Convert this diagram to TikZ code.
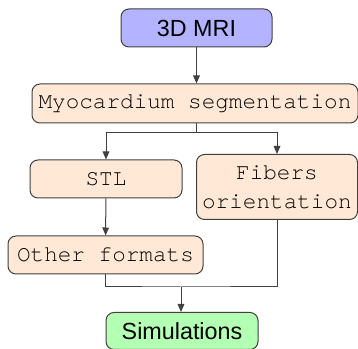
\documentclass[tikz,border=0pt]{standalone}
\usepackage{fontspec}
\setmainfont{Liberation Sans}
\setsansfont{Liberation Sans}
\setmonofont{TeX Gyre Cursor}
\usetikzlibrary{arrows.meta,positioning}

\definecolor{boxline}{HTML}{404040}
\definecolor{mrifill}{HTML}{B3B3FF}
\definecolor{stepfill}{HTML}{FFE9D6}
\definecolor{simfill}{HTML}{B3FFB3}

\begin{document}
\begin{tikzpicture}[x=0.75pt,y=-0.75pt]
\tikzset{
  flowbox/.style={rectangle,rounded corners=6pt,draw=boxline,line width=0.75pt,inner sep=2pt,font=\fontsize{17}{22}\selectfont},
  sansbox/.style={flowbox,font=\fontsize{17.5}{22}\selectfont\sffamily},
  monobox/.style={flowbox,fill=stepfill,font=\fontsize{17}{22}\selectfont\ttfamily,align=center},
  flowline/.style={draw=boxline,line width=0.75pt},
  flowarrow/.style={flowline,-{Triangle[length=6pt,width=5pt]}}
}
\useasboundingbox (0,0) rectangle (358,349);
\node[sansbox,fill=mrifill,minimum width=113.25pt,minimum height=28.5pt] (n_mri) at (196.5,28) {3D MRI};
\node[monobox,minimum width=244.5pt,minimum height=29.25pt] (n_seg) at (195,103.5) {Myocardium segmentation};
\node[monobox,minimum width=114pt,minimum height=28.5pt] (n_stl) at (106,179) {STL};
\node[monobox,minimum width=120.75pt,minimum height=48.75pt] (n_fib) at (277,187) {Fibers\\orientation};
\node[monobox,minimum width=146.25pt,minimum height=28.5pt] (n_oth) at (105.5,255) {Other formats};
\node[sansbox,fill=simfill,minimum width=114pt,minimum height=27.75pt] (n_sim) at (182,331) {Simulations};
\coordinate (c_split) at (196.5,133);
\coordinate (c_join) at (181,287);
\draw[flowarrow] (n_mri.south) -- (n_mri.south |- n_seg.north);
\draw[flowline] (c_split |- n_seg.south) -- (c_split);
\draw[flowarrow] (c_split) -| (n_stl.north);
\draw[flowarrow] (c_split) -| (n_fib.north);
\draw[flowarrow] (n_stl) -- (n_oth);
\draw[flowline] (n_oth.south) |- (c_join) -| (n_fib.south);
\draw[flowarrow] (c_join) -- (c_join |- n_sim.north);
\end{tikzpicture}
\end{document}
